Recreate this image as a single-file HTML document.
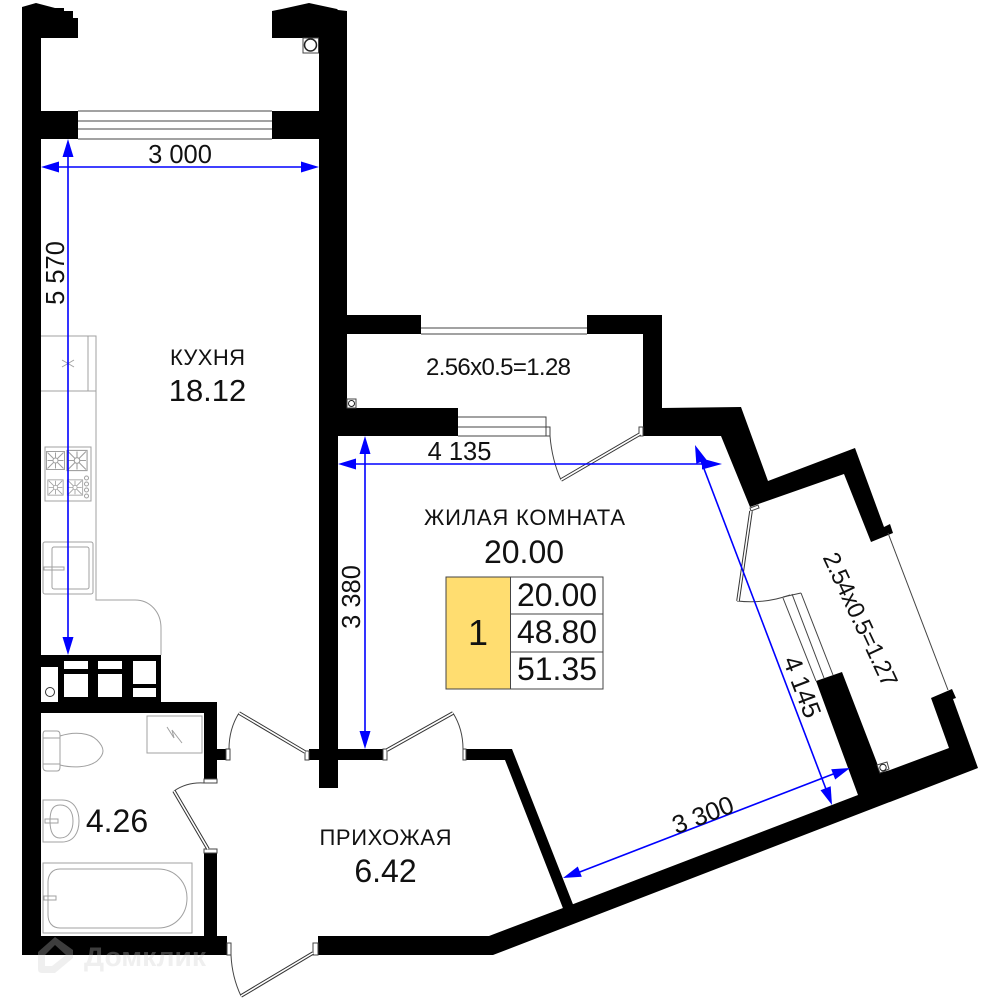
<!DOCTYPE html>
<html><head><meta charset="utf-8"><style>
html,body{margin:0;padding:0;background:#fff}
svg{display:block}
text{font-family:"Liberation Sans",sans-serif;fill:#111}
.f{fill:none;stroke:#a0a0a0;stroke-width:1}
.g{fill:none;stroke:#444;stroke-width:1}
.j{fill:#fff;stroke:#444;stroke-width:1}
.l{stroke:#333;stroke-width:3.6;fill:none}
.w{stroke:#fff;stroke-width:1.6;fill:none}
.b{stroke:#0000ff;stroke-width:1.6;fill:none}
.a{fill:#0000ff}
</style></head><body>
<svg width="1000" height="1000" viewBox="0 0 1000 1000" xmlns="http://www.w3.org/2000/svg">
<defs>
<g id="bn"><rect x="-9" y="-9" width="18" height="18" class="f"/><path class="f" d="M-8-8L8 8M-8 8L8-8M0-8V8M-8 0H8"/><circle r="2.500" fill="#fff" stroke="#a0a0a0"/></g>
</defs>
<rect width="1000" height="1000" fill="#fff"/>

<!-- kitchen fixtures -->
<path class="f" d="M41 336H96V600H135C150 600 161 612 161 628V655"/>
<path class="f" d="M41 391H96M88 336V391M62 360L74 367M74 360L62 367"/>
<rect x="45" y="447" width="46" height="54" class="f"/>
<use href="#bn" x="55.5" y="460.5"/>
<g transform="translate(77 460.5) scale(1.12)"><use href="#bn"/></g>
<g transform="translate(55.5 487.5) scale(.85)"><use href="#bn"/></g>
<g transform="translate(75 487.5) scale(.85)"><use href="#bn"/></g>
<g class="f"><circle cx="86.500" cy="478" r="2"/><circle cx="86.500" cy="484" r="2"/><circle cx="86.500" cy="490" r="2"/><circle cx="86.500" cy="496" r="2"/></g>
<rect x="43" y="542" width="50" height="52" rx="2" class="f"/>
<rect x="52" y="547" width="37" height="42" rx="2" class="f"/>
<rect x="44" y="567" width="20" height="3" class="f"/>

<!-- walls -->
<g fill="#000">
<rect x="22" y="7" width="19" height="948"/>
<polygon points="22,7 36,3 55,8 64,8 64,11 73,11 73,18 78,18 78,38 22,38"/>
<polygon points="272,11 282,9 309,3 337,9 338,10 347,11 347,38 272,38"/>
<rect x="22" y="111" width="56" height="28"/>
<rect x="272" y="111" width="75" height="28"/>
<rect x="319" y="11" width="28" height="397"/>
<rect x="319" y="408" width="19" height="380"/>
<rect x="338" y="408" width="120" height="28"/>
<rect x="347" y="315" width="74" height="19"/>
<polygon points="587,315 662,315 662,408 741,407 768,481 855,448 884,527 890,524 893,533 871,542 844,474 750,507 721,436 643,436 643,334 587,334"/>
<rect x="22" y="655" width="139" height="47"/>
<rect x="22" y="702" width="195" height="11"/>
<rect x="204" y="702" width="13" height="77"/>
<rect x="217" y="749" width="9" height="11"/>
<rect x="204" y="853" width="13" height="83"/>
<rect x="22" y="936" width="205" height="19"/>
<rect x="309" y="749" width="74" height="11"/>
<polygon points="466,749 512,749 576,912 566,916 505,760 466,760"/>
<polygon points="318,936 489,936 563,908 858,795 816,681 842,672 877,763 880,773 890,770 949,748 931,698 952,689 956,698 953,699 978,768 493,955 318,955"/>
</g>
<!-- shaft holes -->
<g fill="#fff">
<rect x="41" y="667" width="17" height="35"/>
<rect x="64" y="661" width="24" height="8"/><rect x="64" y="674" width="24" height="23"/>
<rect x="98" y="661" width="24" height="8"/><rect x="98" y="674" width="24" height="23"/>
<rect x="133" y="661" width="23" height="23"/><rect x="133" y="688" width="23" height="9"/>
</g>
<circle cx="50" cy="692" r="4.500" fill="#fff" stroke="#333"/>

<!-- columns -->
<rect x="303" y="38" width="15.500" height="15" fill="#fff" stroke="#444"/>
<circle cx="310.500" cy="45" r="6" fill="#fff" stroke="#222" stroke-width="1.500"/>
<rect x="347" y="399" width="9" height="9" fill="#fff" stroke="#444"/>
<circle cx="351.500" cy="403.500" r="3" fill="#fff" stroke="#222"/>
<polygon points="877,765 887,762 889,769 880,773" fill="#fff" stroke="#444"/>
<circle cx="883" cy="767.500" r="3.200" fill="#fff" stroke="#222"/>

<!-- windows -->
<path class="g" d="M78 111H272M78 121H272M78 129H272M78 139H272"/>
<path class="g" d="M421 328H587M421 334H587"/>
<path class="g" d="M458 417H546V436M458 427H550M458 436H550"/>
<path class="g" d="M783 598L816 681M792 594L824 678M801 593L833 675M783 597L801 593"/>
<path class="g" d="M888 533L948 690"/>

<!-- doors -->
<rect x="226" y="749" width="4" height="11" class="j"/>
<rect x="305" y="751" width="4" height="9" class="j"/>
<path class="g" d="M229 749Q229 729 239 713"/>
<path class="l" d="M239 713L305 752"/><path class="w" d="M239 713L305 752"/>
<rect x="383" y="749" width="4" height="11" class="j"/>
<rect x="463" y="749" width="3" height="11" class="j"/>
<path class="g" d="M463 749Q463 729 453 713"/>
<path class="l" d="M387 750L453 713"/><path class="w" d="M387 750L453 713"/>
<rect x="204" y="779" width="13" height="4" class="j"/>
<rect x="204" y="849" width="13" height="4" class="j"/>
<path class="g" d="M204 783Q187 782 174 791"/>
<path class="l" d="M174 791L208 849"/><path class="w" d="M174 791L208 849"/>
<rect x="227" y="943" width="4" height="12" class="j"/>
<rect x="313" y="943" width="5" height="12" class="j"/>
<path class="g" d="M231 955Q232 977 241 996"/>
<path class="l" d="M241 996L313 953"/><path class="w" d="M241 996L313 953"/>
<rect x="546" y="427" width="4" height="9" class="j"/>
<rect x="639" y="427" width="4" height="9" class="j"/>
<path class="g" d="M550 436Q552 460 561 480"/>
<path class="l" d="M561 480L640 434"/><path class="w" d="M561 480L640 434"/>
<polygon points="750,508 758,505 759,508 751,511" class="j"/>
<path class="g" d="M737 601Q765 604 790 595"/>
<path class="l" d="M751 511L738 601"/><path class="w" d="M751 511L738 601"/>

<!-- bathroom fixtures -->
<rect x="147" y="716" width="55" height="37" class="f"/>
<path class="f" d="M167 727L174 738L172 730L182 743"/>
<path class="f" d="M60 736C75 731 90 733 97 740C105 748 105 754 97 761C88 768 72 768 60 765"/>
<path class="f" d="M45 731H57Q60 731 60 735V767Q60 771 57 771H47Q43 771 43 767V735Q43 731 45 731ZM43 738H60M43 764H60"/>
<path class="f" d="M43 800H62C74 800 79 810 79 821C79 832 74 842 62 842H43Z"/>
<path class="f" d="M60 805C69 805 73 812 73 821C73 830 69 838 60 838C53 838 50 832 50 821C50 810 53 805 60 805Z"/>
<path class="f" d="M45 819H58V823H45Z"/>
<rect x="43" y="863" width="149" height="70" class="f"/>
<path class="f" d="M60 869H158C175 869 187 882 187 898C187 915 175 928 158 928H60C52 928 48 922 48 915V882C48 875 52 869 60 869Z"/>
<path class="f" d="M44 896H56V900H44Z"/>

<!-- dimension lines -->
<path class="b" d="M50 167H310"/>
<polygon class="a" points="41,167 59,161.500 59,172.500"/>
<polygon class="a" points="319,167 301,161.500 301,172.500"/>
<path class="b" d="M68 148V646"/>
<polygon class="a" points="68,139 62.500,157 73.500,157"/>
<polygon class="a" points="68,655 62.500,637 73.500,637"/>
<path class="b" d="M347 464H712"/>
<polygon class="a" points="338,464 356,458.500 356,469.500"/>
<polygon class="a" points="722,464 702,458.500 702,469.500"/>
<path class="b" d="M365 445V740"/>
<polygon class="a" points="365,436 359.500,454 370.500,454"/>
<polygon class="a" points="365,749 359.500,731 370.500,731"/>
<path class="b" d="M698 453L829 797"/>
<polygon class="a" points="695,445 706.500,459.800 696.300,463.800"/>
<polygon class="a" points="832,805 830.700,786.200 820.500,790.200"/>
<path class="b" d="M572 875L841 771"/>
<polygon class="a" points="563,878 581.800,876.700 577.800,866.500"/>
<polygon class="a" points="850,768 835.200,779.500 831.200,769.300"/>

<!-- table -->
<rect x="446" y="577" width="64.500" height="112" fill="#ffdd70" stroke="#444"/>
<rect x="510.500" y="577" width="92.500" height="37" fill="#fff" stroke="#444"/>
<rect x="510.500" y="614" width="92.500" height="38" fill="#fff" stroke="#444"/>
<rect x="510.500" y="652" width="92.500" height="37" fill="#fff" stroke="#444"/>

<!-- labels -->
<g text-anchor="middle">
<text x="180" y="163" font-size="25.500">3 000</text>
<text transform="translate(64 273) rotate(-90)" font-size="25.500">5 570</text>
<text x="207.500" y="365" font-size="22" textLength="75">КУХНЯ</text>
<text x="207.500" y="401" font-size="31">18.12</text>
<text x="498.500" y="375" font-size="24" textLength="145">2.56x0.5=1.28</text>
<text x="459.500" y="460" font-size="25.500">4 135</text>
<text x="524.500" y="525" font-size="22" textLength="201">ЖИЛАЯ КОМНАТА</text>
<text x="524" y="563" font-size="32">20.00</text>
<text transform="translate(360 597) rotate(-90)" font-size="25.500">3 380</text>
<text x="478" y="645" font-size="36">1</text>
<text x="557" y="606" font-size="32">20.00</text>
<text x="557" y="643" font-size="32">48.80</text>
<text x="557" y="680" font-size="32">51.35</text>
<text x="117" y="832" font-size="32">4.26</text>
<text x="385.500" y="845" font-size="22" textLength="132">ПРИХОЖАЯ</text>
<text x="385.500" y="882" font-size="32">6.42</text>
<text transform="translate(853 623) rotate(65)" font-size="24" textLength="145">2.54x0.5=1.27</text>
<text transform="translate(794 690) rotate(69)" font-size="25.500">4 145</text>
<text transform="translate(706 823) rotate(-21)" font-size="25.500">3 300</text>
</g>

<!-- watermark -->
<g opacity=".3">
<path d="M38 952L55 937L73 950V958L55 973H42Q38 973 38 969Z M45 955V966H52L66 955L55 945Z" fill="#cbcbcb" fill-rule="evenodd"/>
<text x="84" y="966" font-size="27" font-weight="bold" textLength="122" lengthAdjust="spacingAndGlyphs" style="fill:#cbcbcb">Домклик</text>
</g>
</svg>
</body></html>
